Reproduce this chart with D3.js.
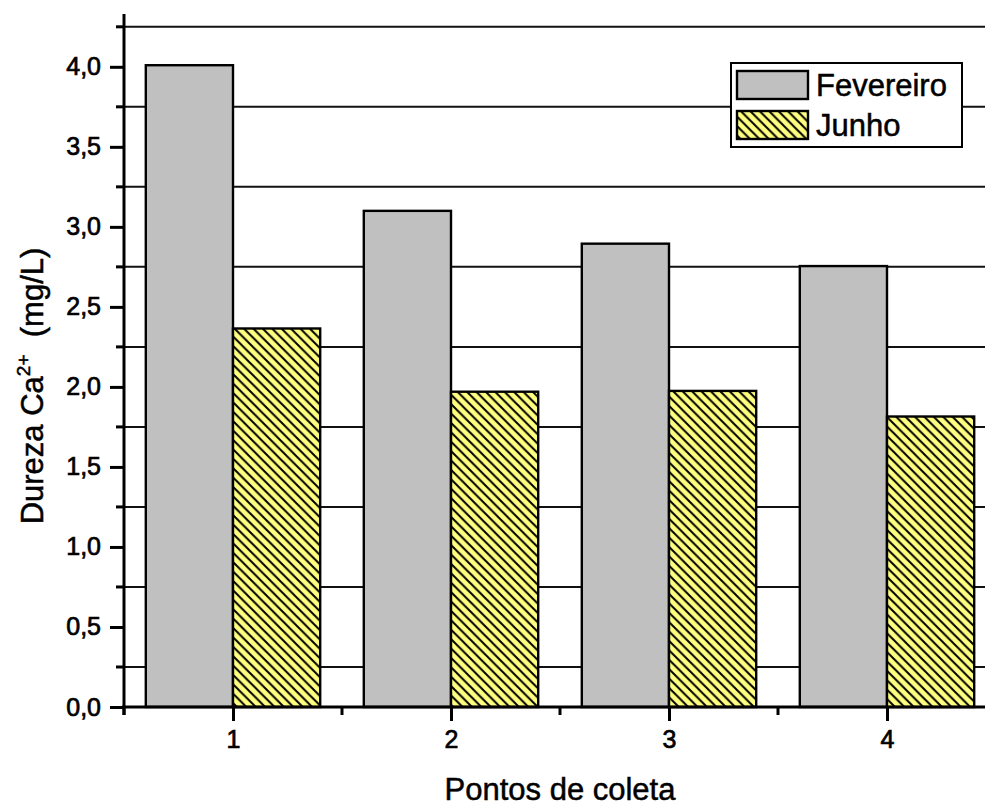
<!DOCTYPE html>
<html>
<head>
<meta charset="utf-8">
<script src="https://cdn.jsdelivr.net/npm/d3@7"></script>
<style>
  html, body { margin: 0; padding: 0; background: #fff; overflow: hidden; }
  svg { display: block; font-family: "Liberation Sans", Arial, sans-serif; }
</style>
</head>
<body>
<svg id="chart" width="985" height="806"></svg>
<script>
const categories = [1, 2, 3, 4];
const seriesNames = ["Fevereiro", "Junho"];
const fevereiro = [4.01, 3.10, 2.895, 2.755];
const junho = [2.365, 1.97, 1.975, 1.815];
const yMajorTicks = [0, 0.5, 1.0, 1.5, 2.0, 2.5, 3.0, 3.5, 4.0];
const yMinorTicks = [0.25, 0.75, 1.25, 1.75, 2.25, 2.75, 3.25, 3.75, 4.25];
const xMinorTicks = [0.5, 1.5, 2.5, 3.5];
const xTitle = "Pontos de coleta";

const svg = d3.select("#chart");
const x = d3.scaleLinear().domain([0.5, 4.5]).range([124, 996]);
const y = d3.scaleLinear().domain([0, 4.33]).range([707, 14]);
const barW = x(1.4) - x(1.0);

const P = 9.4;
const defs = svg.append("defs");
const pat = defs.append("pattern")
  .attr("id", "hatch").attr("patternUnits", "userSpaceOnUse")
  .attr("width", P).attr("height", P);
pat.append("rect").attr("width", P).attr("height", P).attr("fill", "#ffff80");
pat.append("path")
  .attr("d", `M-2,-2 L${P + 2},${P + 2} M-2,${P - 2} L2,${P + 2} M${P - 2},-2 L${P + 2},2`)
  .attr("stroke", "#000").attr("stroke-width", 2);

// grid lines at minor positions
svg.append("g").selectAll("line").data(yMinorTicks).join("line")
  .attr("x1", x(0.5)).attr("x2", 985)
  .attr("y1", d => y(d)).attr("y2", d => y(d))
  .attr("stroke", "#111").attr("stroke-width", 2);

const series = [
  { name: seriesNames[0], values: fevereiro, fill: "#c0c0c0", off: -1 },
  { name: seriesNames[1], values: junho, fill: "url(#hatch)", off: 0 }
];

series.forEach(s => {
  svg.append("g").selectAll("rect").data(categories).join("rect")
    .attr("x", (d) => x(d) + s.off * barW)
    .attr("y", (d, i) => y(s.values[i]))
    .attr("width", barW)
    .attr("height", (d, i) => y(0) - y(s.values[i]))
    .attr("fill", s.fill)
    .attr("stroke", "#000").attr("stroke-width", 2.4);
});

const thick = sel => sel.attr("stroke", "#000").attr("stroke-width", 0.7).attr("fill", "#000");

// Y axis
const yAxis = svg.append("g").attr("transform", `translate(${x(0.5)},0)`);
yAxis.call(d3.axisLeft(y).tickValues(yMajorTicks).tickSize(14).tickPadding(9)
  .tickFormat(d => d3.format(".1f")(d).replace(".", ",")));
yAxis.select(".domain").remove();
yAxis.append("line").attr("x1", 0).attr("x2", 0).attr("y1", y(4.33)).attr("y2", y(0) + 8)
  .attr("stroke", "#000").attr("stroke-width", 3);
yAxis.selectAll(".tick line").attr("stroke", "#000").attr("stroke-width", 3);
yAxis.selectAll(".tick text").attr("font-size", 25)
  .attr("font-family", "Liberation Sans, Arial, sans-serif").call(thick);
yAxis.append("g").selectAll("line").data(yMinorTicks).join("line")
  .attr("x1", -8).attr("x2", 0).attr("y1", d => y(d)).attr("y2", d => y(d))
  .attr("stroke", "#000").attr("stroke-width", 3);

// X axis
const xAxis = svg.append("g").attr("transform", `translate(0,${y(0)})`);
xAxis.call(d3.axisBottom(x).tickValues(categories).tickSize(14).tickPadding(9)
  .tickFormat(d3.format("d")));
xAxis.select(".domain").remove();
xAxis.append("line").attr("x1", x(0.5) - 2).attr("x2", 985).attr("y1", 0).attr("y2", 0)
  .attr("stroke", "#000").attr("stroke-width", 3);
xAxis.selectAll(".tick line").attr("stroke", "#000").attr("stroke-width", 3);
xAxis.selectAll(".tick text").attr("font-size", 25)
  .attr("font-family", "Liberation Sans, Arial, sans-serif").call(thick);
xAxis.append("g").selectAll("line").data(xMinorTicks).join("line")
  .attr("x1", d => x(d)).attr("x2", d => x(d)).attr("y1", 0).attr("y2", 8)
  .attr("stroke", "#000").attr("stroke-width", 3);

// Axis titles
svg.append("text").attr("x", x(2.5)).attr("y", 800).attr("text-anchor", "middle")
  .attr("font-size", 31).call(thick).attr("stroke-width", 0.5).text(xTitle);

const yt = svg.append("text")
  .attr("transform", "translate(43,386) rotate(-90)")
  .attr("text-anchor", "middle").attr("font-size", 31).call(thick).attr("stroke-width", 0.5);
yt.append("tspan").text("Dureza Ca");
yt.append("tspan").attr("font-size", 19).attr("dy", -13).text("2+");
yt.append("tspan").attr("dy", 13).text("\u00a0\u00a0(mg/L)");

// Legend
const lg = svg.append("g");
lg.append("rect").attr("x", 731).attr("y", 63).attr("width", 231).attr("height", 84)
  .attr("fill", "#fff").attr("stroke", "#000").attr("stroke-width", 2);
series.forEach((s, i) => {
  lg.append("rect").attr("x", 737).attr("y", 71 + i * 40).attr("width", 71).attr("height", 28)
    .attr("fill", s.fill).attr("stroke", "#000").attr("stroke-width", 2.4);
  lg.append("text").attr("x", 816).attr("y", 96 + i * 40).attr("font-size", 31)
    .call(thick).attr("stroke-width", 0.5).text(s.name);
});
</script>
</body>
</html>
